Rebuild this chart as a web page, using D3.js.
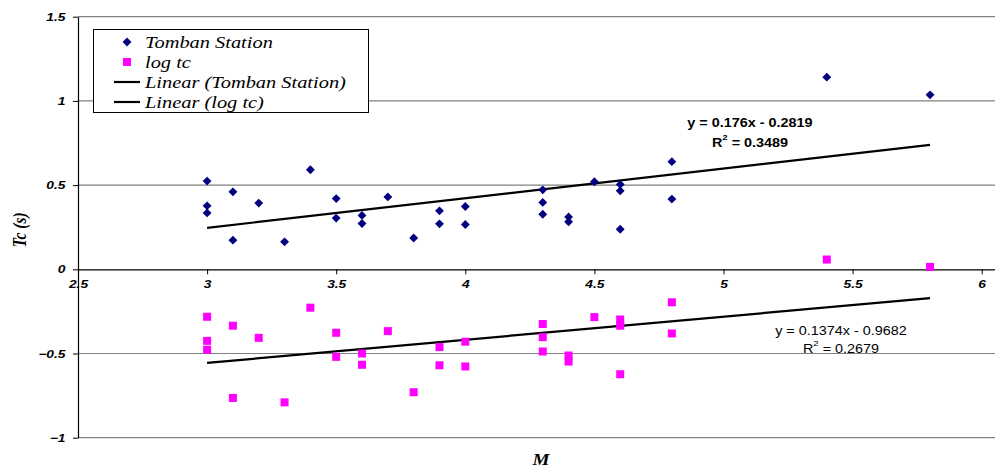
<!DOCTYPE html>
<html>
<head>
<meta charset="utf-8">
<script src="https://cdn.jsdelivr.net/npm/d3@7"></script>
<style>
  html, body { margin: 0; padding: 0; background: #fff; }
  svg { display: block; }
</style>
</head>
<body>
<svg id="chart" width="995" height="468"></svg>
<script>
// ---- data ----
const magnitudes = [3.0, 3.0, 3.0, 3.1, 3.1, 3.2, 3.3, 3.4, 3.5, 3.5, 3.6, 3.6, 3.7, 3.8, 3.9, 3.9, 4.0, 4.0,
                    4.3, 4.3, 4.3, 4.4, 4.4, 4.5, 4.6, 4.6, 4.6, 4.8, 4.8, 5.4, 5.8];
const tombanTc = [0.524, 0.377, 0.335, 0.460, 0.173, 0.393, 0.163, 0.591, 0.420, 0.304, 0.320, 0.272, 0.430, 0.186,
                  0.347, 0.270, 0.373, 0.266, 0.472, 0.397, 0.327, 0.311, 0.282, 0.520, 0.504, 0.466, 0.238,
                  0.639, 0.417, 1.141, 1.036];
const logTc = [-0.282, -0.425, -0.478, -0.335, -0.764, -0.407, -0.790, -0.228, -0.377, -0.520, -0.500, -0.567,
               -0.367, -0.730, -0.462, -0.570, -0.430, -0.577, -0.325, -0.403, -0.488, -0.512, -0.548, -0.284,
               -0.298, -0.335, -0.623, -0.196, -0.381, 0.058, 0.014];
const trendTomban = { slope: 0.176, intercept: -0.2819, r2: 0.3489 };
const trendLog = { slope: 0.1374, intercept: -0.9682, r2: 0.2679 };
const xTicks = [2.5, 3, 3.5, 4, 4.5, 5, 5.5, 6];
const yTicks = [-1, -0.5, 0, 0.5, 1, 1.5];
const seriesNames = ["Tomban Station", "log tc", "Linear (Tomban Station)", "Linear (log tc)"];

(function () {
// ---- layout ----
const svg = d3.select("#chart");
const pLeft = 78, pRight = 995, pTop = 16.7, pBottom = 437.7;
const SX = 1.2; // horizontal stretch of the reference's text
const x = d3.scaleLinear().domain([2.5, 2.5 + (pRight - pLeft) / 258.2]).range([pLeft, pRight]);
const y = d3.scaleLinear().domain([-1, 1.5]).range([pBottom, pTop]);

const sans = "'Liberation Sans', Arial, sans-serif";
const serif = "'Liberation Serif', 'Times New Roman', serif";

// gridlines
svg.append("g").selectAll("line").data(yTicks.filter(d => d !== 0)).join("line")
  .attr("x1", pLeft).attr("x2", pRight)
  .attr("y1", d => y(d)).attr("y2", d => y(d))
  .attr("stroke", "#808080").attr("stroke-width", 1.2);

// y axis
const yAxis = svg.append("g").attr("transform", `translate(${pLeft},0)`)
  .call(d3.axisLeft(y).tickValues(yTicks).tickSize(5).tickSizeOuter(0).tickFormat(d3.format("")));
yAxis.select(".domain").attr("stroke", "#000").attr("stroke-width", 1.2);
yAxis.selectAll(".tick line").attr("stroke", "#000");
yAxis.selectAll(".tick text").attr("x", -12.5 / SX).attr("transform", `scale(${SX},1)`)
  .style("font-family", sans).style("font-size", "11.5px")
  .style("font-weight", "bold").style("font-style", "italic").attr("fill", "#000");

// x axis at y = 0
const xAxis = svg.append("g").attr("transform", `translate(0,${y(0)})`)
  .call(d3.axisBottom(x).tickValues(xTicks).tickSize(5).tickSizeOuter(0).tickFormat(d3.format("")));
xAxis.select(".domain").attr("stroke", "#000").attr("stroke-width", 1.2);
xAxis.selectAll(".tick line").attr("stroke", "#000");
xAxis.selectAll(".tick text").attr("y", 11).attr("transform", `scale(${SX},1)`)
  .style("font-family", sans).style("font-size", "11.5px")
  .style("font-weight", "bold").style("font-style", "italic").attr("fill", "#000");

// trend lines
const xStart = d3.min(magnitudes), xEnd = d3.max(magnitudes);
[trendTomban, trendLog].forEach(t => {
  svg.append("line")
    .attr("x1", x(xStart)).attr("y1", y(t.slope * xStart + t.intercept))
    .attr("x2", x(xEnd)).attr("y2", y(t.slope * xEnd + t.intercept))
    .attr("stroke", "#000").attr("stroke-width", 2.2);
});

// points
const pts = magnitudes.map((m, i) => ({ m, tc: tombanTc[i], lg: logTc[i] }));
svg.append("g").selectAll("path").data(pts).join("path")
  .attr("d", d3.symbol(d3.symbolDiamond2, 50))
  .attr("transform", d => `translate(${x(d.m)},${y(d.tc)})`)
  .attr("fill", "#000080");
svg.append("g").selectAll("rect").data(pts).join("rect")
  .attr("x", d => x(d.m) - 4).attr("y", d => y(d.lg) - 4)
  .attr("width", 8).attr("height", 8)
  .attr("fill", "#FF00FF");

// equation labels
function eq(t, cx, cy, bold, size, dy) {
  const g = svg.append("g").attr("transform", `translate(${cx},${cy}) scale(${SX},1)`)
    .style("font-family", sans).style("font-size", size + "px")
    .style("font-weight", bold ? "bold" : "normal").attr("fill", "#000");
  const sgn = t.intercept < 0 ? " - " : " + ";
  g.append("text").attr("x", 0).attr("y", 0).attr("text-anchor", "middle")
    .attr("dominant-baseline", "central")
    .text(`y = ${t.slope}x${sgn}${Math.abs(t.intercept)}`);
  const r = g.append("text").attr("x", 0).attr("y", dy).attr("text-anchor", "middle")
    .attr("dominant-baseline", "central");
  r.append("tspan").text("R");
  r.append("tspan").attr("dy", -5).style("font-size", (size - 4) + "px").text("2");
  r.append("tspan").attr("dy", 5).text(` = ${t.r2}`);
}
eq(trendTomban, 750, 123, true, 12, 19);
eq(trendLog, 841, 331, false, 12, 17);

// legend
const lg = svg.append("g");
lg.append("rect").attr("x", 93.5).attr("y", 29.5).attr("width", 275).attr("height", 83)
  .attr("fill", "#fff").attr("stroke", "#000").attr("stroke-width", 1);
const rowsY = [42, 62, 82, 102];
lg.append("path").attr("d", d3.symbol(d3.symbolDiamond2, 50))
  .attr("transform", `translate(127,${rowsY[0]})`).attr("fill", "#000080");
lg.append("rect").attr("x", 123).attr("y", rowsY[1] - 4).attr("width", 8).attr("height", 8).attr("fill", "#FF00FF");
[2, 3].forEach(i => lg.append("line").attr("x1", 114).attr("x2", 140)
  .attr("y1", rowsY[i]).attr("y2", rowsY[i]).attr("stroke", "#000").attr("stroke-width", 2.2));
lg.selectAll("text.lab").data(seriesNames).join("text").attr("class", "lab")
  .attr("transform", (d, i) => `translate(145,${rowsY[i]}) scale(${SX},1)`)
  .attr("dominant-baseline", "central")
  .style("font-family", serif).style("font-style", "italic").style("font-size", "17px")
  .attr("fill", "#000").text(d => d);

// axis titles
svg.append("text").attr("transform", `translate(541,465) scale(${SX},1)`).attr("text-anchor", "middle")
  .style("font-family", serif).style("font-style", "italic").style("font-weight", "bold")
  .style("font-size", "16px").text("M");
svg.append("text").attr("transform", `translate(20,230) scale(${SX},1) rotate(-90)`).attr("text-anchor", "middle")
  .attr("dominant-baseline", "central")
  .style("font-family", serif).style("font-style", "italic").style("font-weight", "bold")
  .style("font-size", "15.5px").text("Tc (s)");
})();
</script>
</body>
</html>
